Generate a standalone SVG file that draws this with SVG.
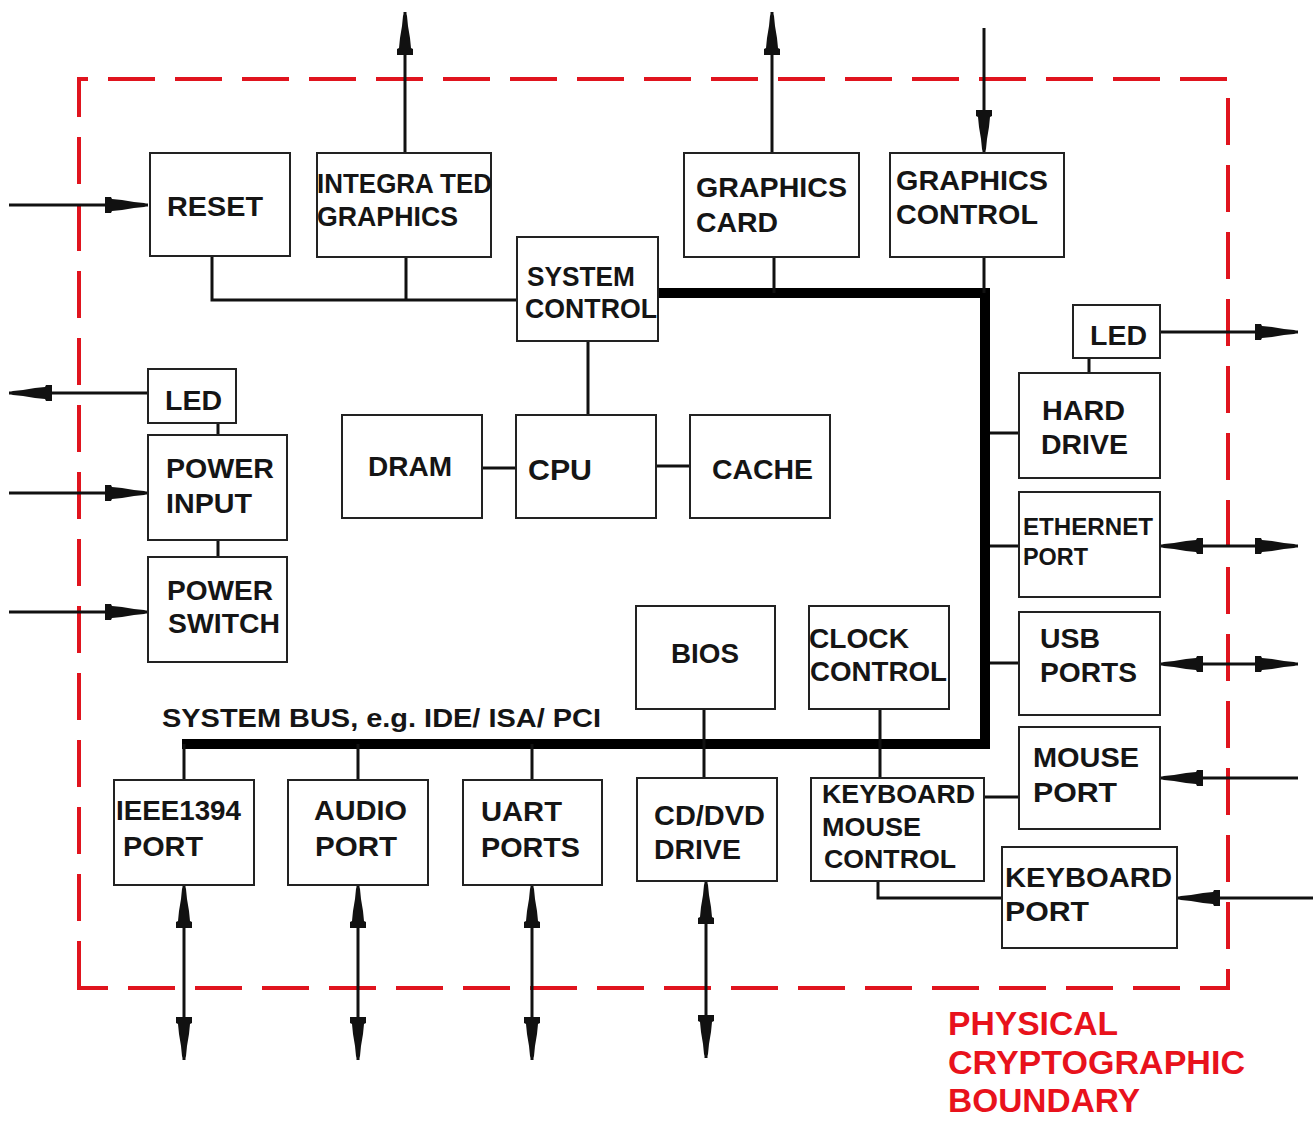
<svg xmlns="http://www.w3.org/2000/svg" width="1313" height="1121" viewBox="0 0 1313 1121">
<defs>
<marker id="ah" markerUnits="userSpaceOnUse" viewBox="-46 -10 48 20" refX="0" refY="0" markerWidth="48" markerHeight="20" orient="auto-start-reverse">
<path d="M0,0 L-4,-2 L-14,-3 L-26,-5 L-36,-6 L-37,-8 L-43,-8 L-43,8 L-37,8 L-36,6 L-26,5 L-14,3 L-4,2 Z" fill="#111"/>
</marker>
<style>
.box{fill:#fff;stroke:#222;stroke-width:2}
.t{font-family:"Liberation Sans",Arial,sans-serif;font-weight:bold;font-size:28px;fill:#151515}
.ln{fill:none;stroke:#111;stroke-width:3}
.ar{fill:none;stroke:#111;stroke-width:3;marker-end:url(#ah)}
.da{fill:none;stroke:#111;stroke-width:3;marker-start:url(#ah);marker-end:url(#ah)}
.bus{fill:none;stroke:#000;stroke-width:10}
.bd{fill:none;stroke:#e0141e;stroke-width:4;stroke-dasharray:47 20}
.red{font-family:"Liberation Sans",Arial,sans-serif;font-weight:bold;font-size:34px;fill:#e8121c}
</style>
</defs>
<rect width="1313" height="1121" fill="#fff"/>
<path class="bd" d="M79,988 V79 H1228 V988 Z"/>
<g id="connectors">
<path class="bus" d="M658,293 H985 V744 H182"/>
<path class="ln" d="M212,256 V300 H517 M406,257 V300"/>
<path class="ln" d="M774,257 V293 M984,257 V293"/>
<path class="ln" d="M588,341 V415 M482,468 H516 M656,466 H690"/>
<path class="ln" d="M218,423 V435 M218,540 V557"/>
<path class="ln" d="M1089,358 V373 M990,433 H1019 M990,546 H1019 M990,663 H1019"/>
<path class="ln" d="M704,709 V778 M880,709 V778 M984,797 H1019 M878,881 V898 H1002"/>
<path class="ln" d="M184,744 V780 M358,744 V780 M532,744 V780"/>
<path class="ar" d="M405,153 V12"/>
<path class="ar" d="M772,153 V12"/>
<path class="ar" d="M984,28 V153"/>
<path class="ar" d="M9,205 H148"/>
<path class="ar" d="M148,393 H9"/>
<path class="ar" d="M9,493 H148"/>
<path class="ar" d="M9,612 H148"/>
<path class="ar" d="M1160,332 H1298"/>
<path class="da" d="M1160,546 H1298"/>
<path class="da" d="M1160,664 H1298"/>
<path class="ar" d="M1298,778 H1160"/>
<path class="ar" d="M1313,898 H1177"/>
<path class="da" d="M184,885 V1060"/>
<path class="da" d="M358,885 V1060"/>
<path class="da" d="M532,885 V1060"/>
<path class="da" d="M706,881 V1058"/>
</g>
<g id="reset"><rect class="box" x="150" y="153" width="140" height="103"/><text class="t" x="167" y="216" textLength="96" lengthAdjust="spacingAndGlyphs">RESET</text></g>
<g id="integrated-graphics"><rect class="box" x="317" y="153" width="174" height="104"/><text class="t" x="317" y="193" textLength="175" lengthAdjust="spacingAndGlyphs">INTEGRA TED</text><text class="t" x="317" y="226" textLength="141" lengthAdjust="spacingAndGlyphs">GRAPHICS</text></g>
<g id="graphics-card"><rect class="box" x="684" y="153" width="175" height="104"/><text class="t" x="696" y="197" textLength="151" lengthAdjust="spacingAndGlyphs">GRAPHICS</text><text class="t" x="696" y="232" textLength="82" lengthAdjust="spacingAndGlyphs">CARD</text></g>
<g id="graphics-control"><rect class="box" x="890" y="153" width="174" height="104"/><text class="t" x="896" y="190" textLength="152" lengthAdjust="spacingAndGlyphs">GRAPHICS</text><text class="t" x="896" y="224" textLength="142" lengthAdjust="spacingAndGlyphs">CONTROL</text></g>
<g id="system-control"><rect class="box" x="517" y="237" width="141" height="104"/><text class="t" x="527" y="286" textLength="108" lengthAdjust="spacingAndGlyphs">SYSTEM</text><text class="t" x="525" y="318" textLength="132" lengthAdjust="spacingAndGlyphs">CONTROL</text></g>
<g id="dram"><rect class="box" x="342" y="415" width="140" height="103"/><text class="t" x="368" y="476" textLength="84" lengthAdjust="spacingAndGlyphs">DRAM</text></g>
<g id="cpu"><rect class="box" x="516" y="415" width="140" height="103"/><text class="t" x="528" y="480" style="font-size:30px" textLength="64" lengthAdjust="spacingAndGlyphs">CPU</text></g>
<g id="cache"><rect class="box" x="690" y="415" width="140" height="103"/><text class="t" x="712" y="479" textLength="101" lengthAdjust="spacingAndGlyphs">CACHE</text></g>
<g id="led-left"><rect class="box" x="148" y="369" width="88" height="54"/><text class="t" x="165" y="410" textLength="57" lengthAdjust="spacingAndGlyphs">LED</text></g>
<g id="power-input"><rect class="box" x="148" y="435" width="139" height="105"/><text class="t" x="166" y="478" textLength="108" lengthAdjust="spacingAndGlyphs">POWER</text><text class="t" x="166" y="513" textLength="86" lengthAdjust="spacingAndGlyphs">INPUT</text></g>
<g id="power-switch"><rect class="box" x="148" y="557" width="139" height="105"/><text class="t" x="167" y="600" textLength="106" lengthAdjust="spacingAndGlyphs">POWER</text><text class="t" x="168" y="633" textLength="112" lengthAdjust="spacingAndGlyphs">SWITCH</text></g>
<g id="led-right"><rect class="box" x="1073" y="305" width="87" height="53"/><text class="t" x="1090" y="345" textLength="57" lengthAdjust="spacingAndGlyphs">LED</text></g>
<g id="hard-drive"><rect class="box" x="1019" y="373" width="141" height="105"/><text class="t" x="1042" y="420" textLength="83" lengthAdjust="spacingAndGlyphs">HARD</text><text class="t" x="1041" y="454" textLength="87" lengthAdjust="spacingAndGlyphs">DRIVE</text></g>
<g id="ethernet-port"><rect class="box" x="1019" y="492" width="141" height="105"/><text class="t" x="1023" y="535" style="font-size:23px" textLength="130" lengthAdjust="spacingAndGlyphs">ETHERNET</text><text class="t" x="1023" y="565" style="font-size:23px" textLength="65" lengthAdjust="spacingAndGlyphs">PORT</text></g>
<g id="usb-ports"><rect class="box" x="1019" y="612" width="141" height="103"/><text class="t" x="1040" y="648" textLength="60" lengthAdjust="spacingAndGlyphs">USB</text><text class="t" x="1040" y="682" textLength="97" lengthAdjust="spacingAndGlyphs">PORTS</text></g>
<g id="bios"><rect class="box" x="636" y="606" width="139" height="103"/><text class="t" x="671" y="663" textLength="68" lengthAdjust="spacingAndGlyphs">BIOS</text></g>
<g id="clock-control"><rect class="box" x="809" y="606" width="140" height="103"/><text class="t" x="809" y="648" textLength="100" lengthAdjust="spacingAndGlyphs">CLOCK</text><text class="t" x="810" y="681" textLength="137" lengthAdjust="spacingAndGlyphs">CONTROL</text></g>
<g id="mouse-port"><rect class="box" x="1019" y="727" width="141" height="102"/><text class="t" x="1033" y="767" textLength="106" lengthAdjust="spacingAndGlyphs">MOUSE</text><text class="t" x="1033" y="802" textLength="84" lengthAdjust="spacingAndGlyphs">PORT</text></g>
<g id="cd-dvd-drive"><rect class="box" x="637" y="778" width="140" height="103"/><text class="t" x="654" y="825" textLength="111" lengthAdjust="spacingAndGlyphs">CD/DVD</text><text class="t" x="654" y="859" textLength="87" lengthAdjust="spacingAndGlyphs">DRIVE</text></g>
<g id="keyboard-mouse-control"><rect class="box" x="811" y="778" width="173" height="103"/><text class="t" x="822" y="803" style="font-size:26px" textLength="153" lengthAdjust="spacingAndGlyphs">KEYBOARD</text><text class="t" x="822" y="836" style="font-size:26px" textLength="99" lengthAdjust="spacingAndGlyphs">MOUSE</text><text class="t" x="824" y="868" style="font-size:26px" textLength="132" lengthAdjust="spacingAndGlyphs">CONTROL</text></g>
<g id="keyboard-port"><rect class="box" x="1002" y="847" width="175" height="101"/><text class="t" x="1005" y="887" textLength="167" lengthAdjust="spacingAndGlyphs">KEYBOARD</text><text class="t" x="1005" y="921" textLength="84" lengthAdjust="spacingAndGlyphs">PORT</text></g>
<g id="ieee1394-port"><rect class="box" x="114" y="780" width="140" height="105"/><text class="t" x="116" y="820" textLength="125" lengthAdjust="spacingAndGlyphs">IEEE1394</text><text class="t" x="123" y="856" textLength="80" lengthAdjust="spacingAndGlyphs">PORT</text></g>
<g id="audio-port"><rect class="box" x="288" y="780" width="140" height="105"/><text class="t" x="314" y="820" textLength="93" lengthAdjust="spacingAndGlyphs">AUDIO</text><text class="t" x="315" y="856" textLength="82" lengthAdjust="spacingAndGlyphs">PORT</text></g>
<g id="uart-ports"><rect class="box" x="463" y="780" width="139" height="105"/><text class="t" x="481" y="821" textLength="81" lengthAdjust="spacingAndGlyphs">UART</text><text class="t" x="481" y="857" textLength="99" lengthAdjust="spacingAndGlyphs">PORTS</text></g>
<g id="system-bus-label"><text class="t" x="162" y="727" style="font-size:26px" textLength="439" lengthAdjust="spacingAndGlyphs">SYSTEM BUS, e.g. IDE/ ISA/ PCI</text></g>
<g id="boundary-label"><text class="red" x="948" y="1035" textLength="170" lengthAdjust="spacingAndGlyphs">PHYSICAL</text><text class="red" x="948" y="1074" textLength="297" lengthAdjust="spacingAndGlyphs">CRYPTOGRAPHIC</text><text class="red" x="948" y="1112" textLength="192" lengthAdjust="spacingAndGlyphs">BOUNDARY</text></g>
</svg>
